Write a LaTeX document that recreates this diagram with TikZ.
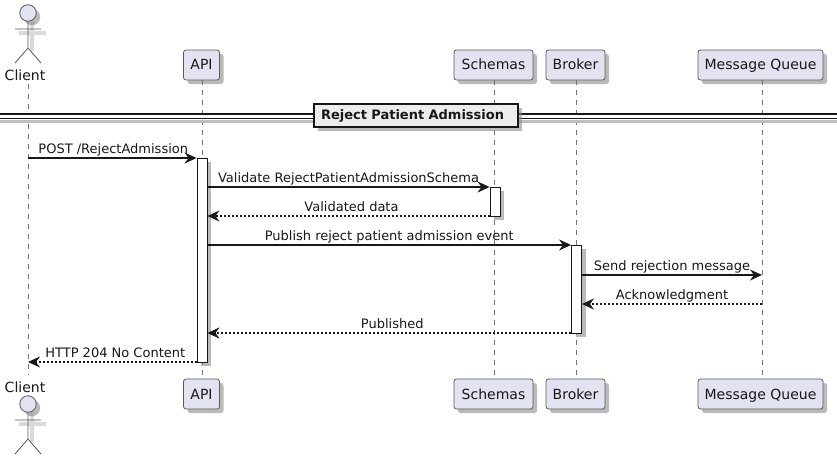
\documentclass[tikz,border=0pt]{standalone}
\usepackage{fontspec}
\setmainfont{DejaVu Sans}
\usepackage{xcolor}
\usetikzlibrary{positioning,arrows.meta,calc,shadows}
\definecolor{ink}{HTML}{181818}
\definecolor{lilac}{HTML}{E2E2F0}
\definecolor{edge}{HTML}{5A5A5A}
\begin{document}
\begin{tikzpicture}[
  x=1pt, y=-1pt,
  font=\fontsize{13}{15}\selectfont,
  softshadow/.style={drop shadow={shadow xshift=4pt, shadow yshift=-4pt, fill=black!45, opacity=.6}},
  part/.style={draw=edge, line width=.8pt, rounded corners=2.5pt, fill=lilac, minimum height=30pt, inner xsep=0pt, text height=10pt, text depth=0pt, softshadow, text=ink, font=\fontsize{14}{16}\selectfont},
  bar/.style={draw=ink, line width=.9pt, fill=white, minimum width=10pt, inner sep=0pt, softshadow},
  life/.style={draw=black!55, line width=.6pt, dash pattern=on 5pt off 5pt},
  msg/.style={-{Stealth[length=12pt, width=11pt, inset=4pt]}, draw=ink, line width=1.4pt},
  reply/.style={msg, dash pattern=on 2pt off 2pt},
  lbl/.style={text=ink, inner sep=0pt, anchor=base, yshift=5pt},
  rlbl/.style={lbl, xshift=3pt},
  stick/.style={draw=edge, line width=.8pt},
  actorfig/.pic={
    \draw[draw=black!15, line width=3.5pt] (4,8) -- (4,38) (-9,20) -- (18,20);
    \node[circle, draw=edge, line width=.8pt, fill=lilac, minimum size=16.5pt, inner sep=0pt, softshadow] (-head) at (0,0) {};
    \draw[stick] (-head) -- (0,35) (-13,16) -- (13,16) (-13,50) -- (0,35) -- (13,50);
  }]
\useasboundingbox (0,0) rectangle (837,460);
\fill[white] (0,0) rectangle (837,460);
% top row
\pic (ctop) at (28,13) {actorfig};
\node[lbl, yshift=-5pt, font=\fontsize{14}{16}\selectfont] (clienttop) at (25,81) {Client};
\node[part, minimum width=36pt] (apitop) at (201.5,65) {API};
\node[part, minimum width=79pt] (schtop) at (493.5,65) {Schemas};
\node[part, minimum width=59pt] (brotop) at (575.5,65) {Broker};
\node[part, minimum width=125pt] (mqtop) at (760.5,65) {Message Queue};
% bottom row
\node[lbl, yshift=-5pt, font=\fontsize{14}{16}\selectfont] (clientbot) at (25,392) {Client};
\pic (cbot) at (28,404) {actorfig};
\node[part, minimum width=36pt] (apibot) at (201.5,394) {API};
\node[part, minimum width=79pt] (schbot) at (493.5,394) {Schemas};
\node[part, minimum width=59pt] (brobot) at (575.5,394) {Broker};
\node[part, minimum width=125pt] (mqbot) at (760.5,394) {Message Queue};
% lifelines
\coordinate (clientlife) at (28,84);
\coordinate (clientend) at (28,375);
\draw[life] (clientlife) -- (clientend);
\draw[life] ($(apitop.south)+(.5,0)$) -- ($(apibot.north)+(.5,0)$);
\draw[life] ($(schtop.south)+(.5,0)$) -- ($(schbot.north)+(.5,0)$);
\draw[life] ($(brotop.south)+(.5,0)$) -- ($(brobot.north)+(.5,0)$);
\draw[life] ($(mqtop.south)+(1.5,0)$) -- ($(mqbot.north)+(1.5,0)$);
% divider
\coordinate (divl) at (0,116);
\coordinate (divr) at (837,116);
\draw[draw=black!25, line width=3pt] ($(divl)+(0,5)$) -- ($(divr)+(0,5)$);
\draw[draw=ink, line width=1.2pt, double=white, double distance=3pt] (divl) -- (divr);
\node[draw=ink, line width=1.6pt, fill=black!7, text width=190pt, inner xsep=7pt, align=left, minimum height=23pt, inner ysep=0pt, text=ink, font=\fontsize{13}{15}\selectfont\bfseries, softshadow] (title) at (416,115.5) {Reject Patient Admission};
% activation bars
\node[bar, minimum height=204pt] (apibar) at (202,260) {};
\node[bar, minimum height=29pt] (schbar) at (495,201.5) {};
\node[bar, minimum height=88pt] (brobar) at (576.5,289) {};
% messages
\coordinate (m1) at (0,158);
\coordinate (m2) at (0,187);
\coordinate (m3) at (0,216);
\coordinate (m4) at (0,245);
\coordinate (m5) at (0,275);
\coordinate (m6) at (0,304);
\coordinate (m7) at (0,333);
\coordinate (m8) at (0,362);
\draw[msg] (clientlife |- m1) -- (apibar.west |- m1) node[midway, lbl, xshift=1pt] {POST /RejectAdmission};
\draw[msg] (apibar.east |- m2) -- (schbar.west |- m2) node[midway, lbl] {Validate RejectPatientAdmissionSchema};
\draw[reply] (schbar.west |- m3) -- (apibar.east |- m3) node[midway, rlbl] {Validated data};
\draw[msg] (apibar.east |- m4) -- (brobar.west |- m4) node[midway, lbl] {Publish reject patient admission event};
\draw[msg] (brobar.east |- m5) -- ($(mqtop.south |- m5)+(1.5,0)$) node[midway, lbl] {Send rejection message};
\draw[reply] ($(mqtop.south |- m6)+(1.5,0)$) -- (brobar.east |- m6) node[midway, lbl] {Acknowledgment};
\draw[reply] (brobar.west |- m7) -- (apibar.east |- m7) node[midway, rlbl] {Published};
\draw[reply] (apibar.west |- m8) -- (clientlife |- m8) node[midway, rlbl] {HTTP 204 No Content};
\end{tikzpicture}
\end{document}
